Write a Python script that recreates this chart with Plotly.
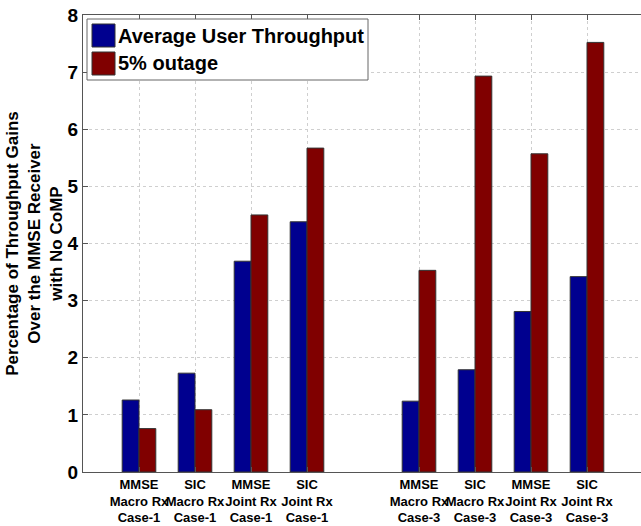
import plotly.graph_objects as go

categories = [
    "MMSE<br>Macro Rx<br>Case-1", "SIC<br>Macro Rx<br>Case-1",
    "MMSE<br>Joint Rx<br>Case-1", "SIC<br>Joint Rx<br>Case-1",
    "MMSE<br>Macro Rx<br>Case-3", "SIC<br>Macro Rx<br>Case-3",
    "MMSE<br>Joint Rx<br>Case-3", "SIC<br>Joint Rx<br>Case-3",
]
avg_throughput = [1.26, 1.73, 3.69, 4.38, 1.24, 1.79, 2.81, 3.42]
outage_5 = [0.76, 1.09, 4.50, 5.67, 3.53, 6.93, 5.57, 7.52]
series_names = ["Average User Throughput", "5% outage"]
y_ticks = [0, 1, 2, 3, 4, 5, 6, 7, 8]

# slot positions: Case-1 in slots 1-4, an empty slot, Case-3 in slots 6-9
xpos = [i + 1 if i < 4 else i + 2 for i in range(len(categories))]

BLUE = "#00008F"
RED = "#800000"
FONT = "Liberation Sans, Arial, Helvetica, sans-serif"

fig = go.Figure()
fig.add_trace(go.Bar(x=xpos, y=avg_throughput, name=series_names[0],
                     marker=dict(color=BLUE, line=dict(color="#333333", width=1)),
                     showlegend=False))
fig.add_trace(go.Bar(x=xpos, y=outage_5, name=series_names[1],
                     marker=dict(color=RED, line=dict(color="#333333", width=1)),
                     showlegend=False))

W, H = 641, 526
plot_left, plot_right, plot_top, plot_bottom = 83, 641, 15, 472
ml, mr = plot_left, W - plot_right
mt, mb = plot_top, H - plot_bottom
pw, ph = W - ml - mr, H - mt - mb

def px(x):
    return (x - plot_left) / pw

def py(y):
    return 1 - (y - plot_top) / ph

# custom legend box (large swatches as in the reference)
shapes = [
    dict(type="rect", xref="paper", yref="paper", x0=px(87), x1=px(368), y0=py(80), y1=py(19),
         line=dict(color="#666666", width=1), fillcolor="white", layer="above"),
    dict(type="rect", xref="paper", yref="paper", x0=px(92), x1=px(115), y0=py(47), y1=py(24),
         line=dict(color="#333333", width=1), fillcolor=BLUE, layer="above"),
    dict(type="rect", xref="paper", yref="paper", x0=px(92), x1=px(115), y0=py(75), y1=py(52),
         line=dict(color="#333333", width=1), fillcolor=RED, layer="above"),
]
annotations = [
    dict(xref="paper", yref="paper", x=px(116), y=py(35.5), text=series_names[0], showarrow=False,
         xanchor="left", yanchor="middle", font=dict(family=FONT, size=20, color="black", weight="bold")),
    dict(xref="paper", yref="paper", x=px(116), y=py(63.5), text=series_names[1], showarrow=False,
         xanchor="left", yanchor="middle", font=dict(family=FONT, size=20, color="black", weight="bold")),
]

fig.update_layout(
    width=W, height=H,
    margin=dict(l=ml, r=mr, t=mt, b=mb),
    paper_bgcolor="white", plot_bgcolor="white",
    barmode="group", bargap=0.4, bargroupgap=0,
    shapes=shapes, annotations=annotations,
    showlegend=False,
    font=dict(family=FONT, color="black"),
)
fig.update_xaxes(
    range=[0, pw / 56.0],
    tickmode="array", tickvals=xpos, ticktext=categories, tickangle=0,
    tickfont=dict(family=FONT, size=13, color="black", weight="bold"),
    ticks="inside", ticklen=5, tickcolor="#555555",
    showline=True, linecolor="#555555", linewidth=1, mirror="ticks",
    showgrid=True, gridcolor="#cfcfcf", griddash="dot", gridwidth=1,
    zeroline=False, automargin=False,
)
fig.update_yaxes(
    range=[0, 8], tickmode="array", tickvals=y_ticks,
    tickfont=dict(family=FONT, size=19, color="black", weight="bold"),
    ticklabeloverflow="allow",
    ticks="inside", ticklen=5, tickcolor="#555555",
    showline=True, linecolor="#555555", linewidth=1,
    showgrid=True, gridcolor="#cfcfcf", griddash="dot", gridwidth=1,
    zeroline=False, automargin=False,
    title=dict(text="Percentage of Throughput Gains<br>Over the MMSE Receiver<br>with No CoMP",
               font=dict(family=FONT, size=17, color="black", weight="bold"), standoff=0),
)

fig.write_html("out.html",
               config={"displayModeBar": False},
               post_script="document.body.style.margin='0';document.body.style.overflow='hidden';")
